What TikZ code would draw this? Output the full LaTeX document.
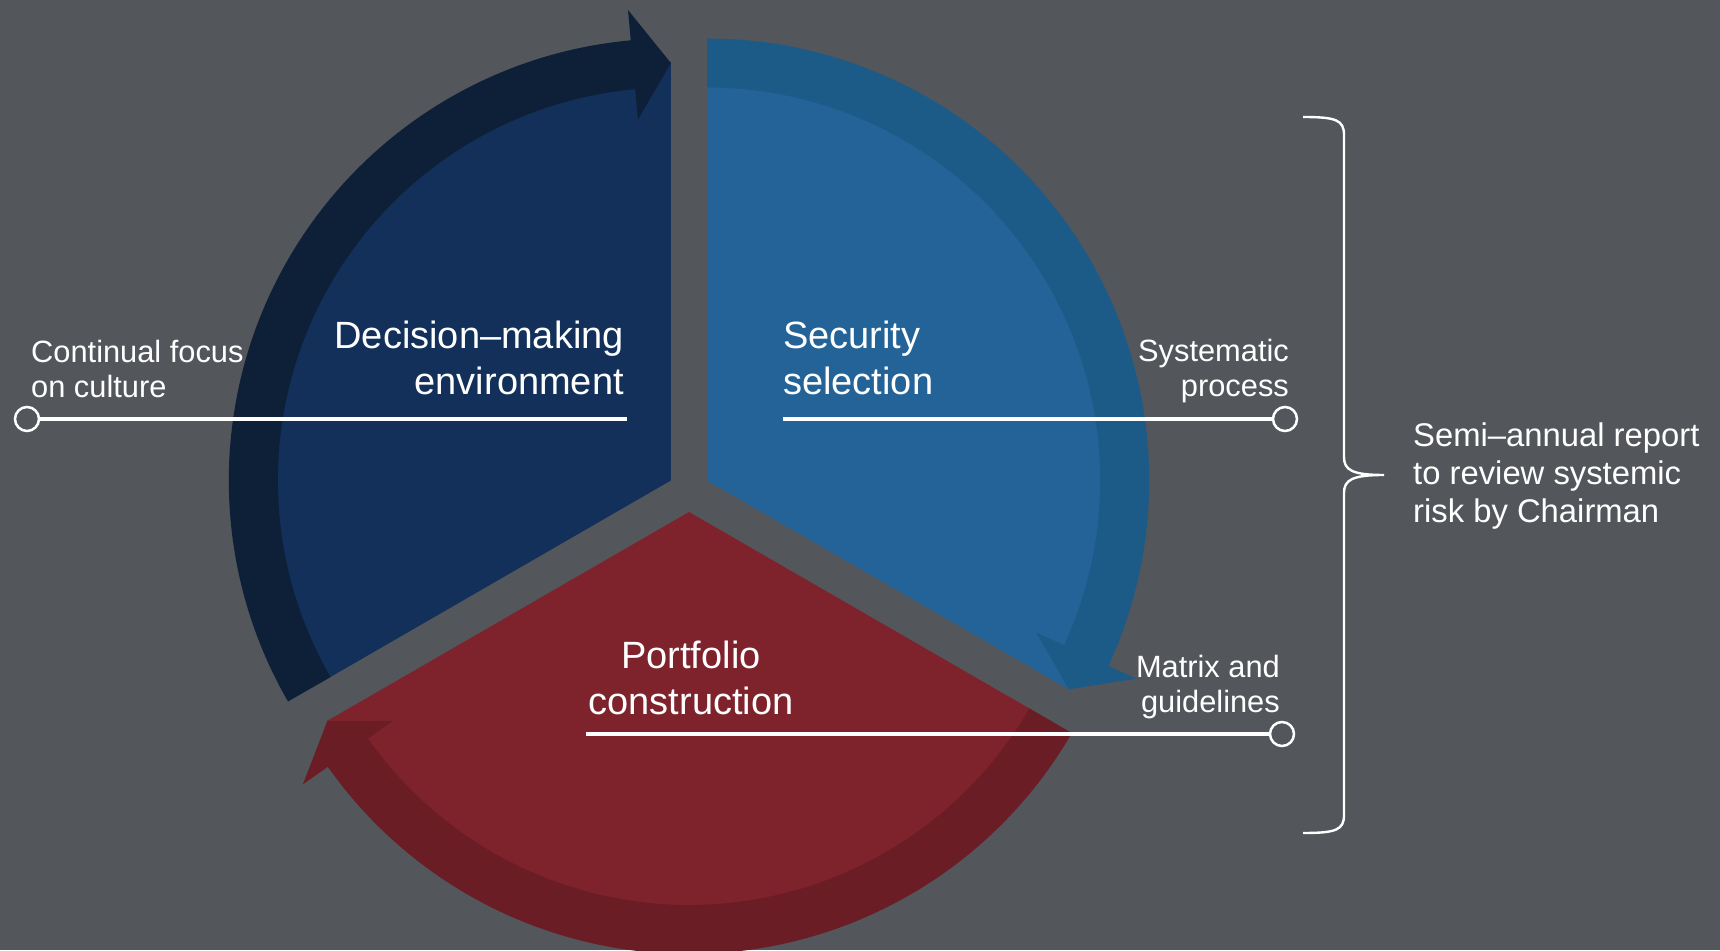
\documentclass[tikz,border=0pt]{standalone}
\usepackage{fontspec}
\setmainfont{Liberation Sans}
\usetikzlibrary{calc}
\definecolor{bg}{HTML}{53565B}
\definecolor{navyL}{HTML}{12305A}
\definecolor{navyD}{HTML}{0E1F38}
\definecolor{blueL}{HTML}{236398}
\definecolor{blueD}{HTML}{1C5B87}
\definecolor{redL}{HTML}{7E232C}
\definecolor{redD}{HTML}{6A1D24}
\begin{document}
\begin{tikzpicture}[x=1pt,y=1pt,
  txt/.style={text=white, inner sep=0pt},
  small/.style={txt, font=\fontsize{30.8}{35}\selectfont},
  big/.style={txt, font=\fontsize{38}{46}\selectfont},
  mid/.style={txt, font=\fontsize{32.8}{38}\selectfont},
  rline/.style={draw=white, line width=3.2pt},
  bracestyle/.style={draw=white, line width=2.4pt},
  dot/.style={circle, draw=white, line width=2.5pt, fill=bg, minimum size=24pt, inner sep=0pt}]
\useasboundingbox (0,0) rectangle (1720,950);
\fill[bg] (0,0) rectangle (1720,950);
\coordinate (N) at (670.8,469.5);
\coordinate (B) at (707.2,469.5);
\coordinate (R) at (689,438);
% navy sector
\begin{scope}[shift={(N)}]
\fill[navyL] (0,0) -- (210:418) arc[start angle=210,end angle=90,radius=418] -- cycle;
\fill[navyD] (210:442) arc[start angle=210,end angle=95.2,radius=442] -- (95.2:472.5) -- (90:417.5) -- (95.2:362.5) -- (95.2:393) arc[start angle=95.2,end angle=210,radius=393] -- cycle;
\end{scope}
% blue sector
\begin{scope}[shift={(B)}]
\fill[blueL] (0,0) -- (-30:418) arc[start angle=-30,end angle=90,radius=418] -- cycle;
\fill[blueD] (90:442) arc[start angle=90,end angle=-24.8,radius=442] -- (-24.8:472.5) -- (-30:417.5) -- (-24.8:362.5) -- (-24.8:393) arc[start angle=-24.8,end angle=90,radius=393] -- cycle;
\end{scope}
% red sector
\begin{scope}[shift={(R)}]
\fill[redL] (0,0) -- (210:418) arc[start angle=210,end angle=330,radius=418] -- cycle;
\fill[redD] (330:442) arc[start angle=330,end angle=215.2,radius=442] -- (215.2:472.5) -- (210:417.5) -- (215.2:362.5) -- (215.2:393) arc[start angle=215.2,end angle=330,radius=393] -- cycle;
\end{scope}
% leader lines
\node[dot] (c1) at (27,531) {};
\coordinate (e1) at (627,531);
\draw[rline] (c1) -- (e1);
\coordinate (s2) at (783,531);
\node[dot] (c2) at (1285,531) {};
\draw[rline] (s2) -- (c2);
\coordinate (s3) at (586,216);
\node[dot] (c3) at (1282,216) {};
\draw[rline] (s3) -- (c3);
% texts (anchor base = baseline of last line)
\node[small, align=left, anchor=base west] (t1) at (31,552) {Continual focus\\on culture};
\node[big, align=right, anchor=base east] (t2) at (624,555) {Decision–making\\environment};
\node[big, align=left, anchor=base west] (t3) at (783,555) {Security\\selection};
\node[small, align=right, anchor=base east] (t4) at (1289,553) {Systematic\\process};
\node[big, align=center, anchor=base] (t5) at (691,235) {Portfolio\\construction};
\node[small, align=right, anchor=base east] (t6) at (1280,237) {Matrix and\\guidelines};
\node[mid, align=left, anchor=base west] (t7) at (1413,427) {Semi–annual report\\to review systemic\\risk by Chairman};
% brace
\coordinate (bt) at (1384,475);
\draw[bracestyle] (1303,833) .. controls (1336,833) and (1344,830) .. (1344,815) -- (1344,493) .. controls (1344,480) and (1352,475) .. (bt) .. controls (1352,475) and (1344,470) .. (1344,457) -- (1344,135) .. controls (1344,120) and (1336,117) .. (1303,117);
\end{tikzpicture}
\end{document}
